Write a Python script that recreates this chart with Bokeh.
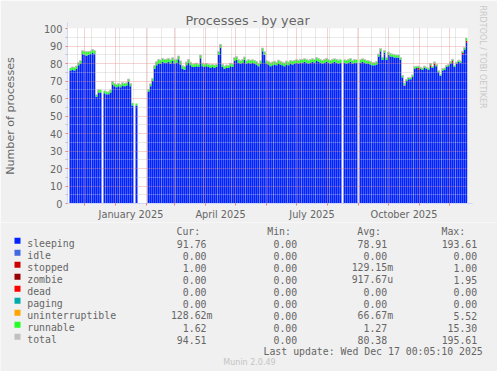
import numpy as np
import pandas as pd
from bokeh.plotting import figure
from bokeh.layouts import column
from bokeh.models import (Range1d, LinearAxis, FixedTicker, Grid, Title,
                          ColumnDataSource, Arrow, NormalHead, DatetimeTickFormatter)
from bokeh.core.properties import value
from bokeh.embed import file_html
from bokeh.resources import INLINE

nan = float("nan")

# ---------------- data (2-day bins, starting 2024-11-14) ----------------
START = "2024-11-14"
WINDOW_DAYS = 400
BIN_DAYS = 2

sleeping = [
    nan, 76, 76.5, 76, 77, 79, 80, 85.5, 85, 84.5,
    85, 85.5, 86, 85.5, 61, 63.5, 63.5, nan, 63, 62.5,
    62.5, 63.5, 68, 67, 66.5, 67, 66.5, 67.5, 67, 67.5,
    69.5, 67, 56, nan, 56, nan, nan, nan, nan, nan,
    64, 67, 70, 77, 79, 80, 80, 81, 80.5, 80.5,
    81, 80, 81.5, 80, 80.5, 82.5, 79.5, 77, 76.5, 79,
    80.5, 79, 78, 78, 78.5, 78, 83, 78.5, 78, 78.5,
    78, 77.5, 78, 77.5, 78, 85, 89, 78, 77, 77.5,
    77.5, 78.5, 78, 81.5, 82, 80.5, 80, 80.5, 82, 80,
    80.5, 80, 80.5, 80, 79.5, 78.5, 80, 87, 85, 80,
    79.5, 78.5, 79, 79.5, 79, 80, 79.5, 79, 78.5, 79.5,
    79, 80, 79.5, 80, 80.5, 80, 80.5, 80.5, 81, 80.5,
    80, 80.5, 81, 80.5, 81.5, 81, 80.5, 80, 80.5, 81,
    80.5, 80, 80.5, 81, 80.5, 80, 80.5, nan, 80.5, 80,
    80.5, 81, 80, 80.5, 80.5, nan, 80.5, 81, 80.5, 80,
    80, 79.5, 79, 79, 79.5, 84, 87, 82, 86, 82,
    85, 84, 84, 83.5, 83.5, 83.5, 82, 72, 67.5, 70,
    71, 71, 72.5, 77, 77.5, 76.5, 77, 76.5, 77.5, 77,
    76.5, 78, 77.5, 79, 78.5, 75, 73, 76, 76.5, 78,
    78.5, 80, 80.5, 78, 80, 81, 80.5, 85, 88, 91.8,
]

runnable = [
    nan, 1.5, 1.5, 1.8, 1.6, 1.5, 1.7, 1.8, 2.0, 2.2,
    1.8, 1.6, 2.0, 1.8, 1.2, 1.4, 1.5, nan, 1.4, 1.3,
    1.3, 1.4, 1.8, 1.6, 1.5, 1.6, 1.4, 1.5, 1.6, 1.5,
    1.6, 1.5, 1.4, nan, 1.2, nan, nan, nan, nan, nan,
    1.3, 1.4, 1.5, 1.8, 2.0, 2.2, 2.0, 1.9, 1.8, 2.0,
    1.9, 2.1, 1.8, 2.0, 1.9, 1.8, 2.0, 1.7, 1.8, 1.9,
    1.8, 1.7, 1.6, 1.8, 1.7, 1.6, 1.8, 1.7, 1.6, 1.5,
    1.6, 1.7, 1.5, 1.6, 1.5, 1.8, 1.9, 1.6, 1.5, 1.6,
    1.5, 1.6, 1.7, 1.8, 1.9, 1.7, 1.6, 1.8, 1.7, 1.6,
    1.7, 1.8, 1.6, 1.7, 1.6, 1.5, 1.6, 1.8, 1.7, 1.6,
    1.7, 1.8, 1.9, 1.8, 1.7, 1.9, 1.8, 1.7, 1.8, 1.9,
    1.8, 1.7, 1.9, 1.8, 1.7, 1.8, 1.9, 1.8, 1.7, 1.8,
    1.9, 1.8, 1.7, 1.8, 1.9, 1.8, 1.7, 1.8, 1.9, 1.8,
    1.7, 1.8, 1.9, 1.7, 1.8, 1.9, 1.8, nan, 1.7, 1.8,
    1.9, 1.8, 1.7, 1.8, 1.7, nan, 1.8, 1.7, 1.8, 1.7,
    1.6, 1.7, 1.6, 1.5, 1.6, 1.4, 1.5, 1.6, 1.4, 1.5,
    1.5, 1.6, 1.4, 1.5, 1.3, 1.4, 1.3, 1.2, 1.1, 1.0,
    1.0, 0.9, 1.0, 1.1, 0.9, 1.0, 0.8, 0.9, 1.0, 0.8,
    0.9, 1.0, 0.8, 0.9, 1.0, 0.9, 0.8, 1.0, 0.9, 0.8,
    0.9, 1.0, 0.9, 1.0, 0.8, 0.9, 1.0, 0.9, 1.1, 1.6,
]

stopped = [
    0, 0, 0, 0, 0, 0, 0, 0, 0, 0,
    0, 0, 0, 0, 0, 0, 0, 0, 0, 0,
    0, 0, 0, 0, 0, 0, 0, 0, 0, 0,
    0, 0, 0, 0, 0, 0, 0, 0, 0, 0,
    0, 0, 0, 0, 0, 0, 0, 0, 0, 0,
    0, 0, 0, 0, 0, 0, 0, 0, 0, 0,
    0, 0, 0, 0, 0, 0, 0, 0, 0, 0,
    0, 0, 0, 0, 0, 0, 0, 0, 0, 0,
    0, 0, 0, 0, 0, 0, 0, 0, 0, 0,
    0, 0, 0, 0, 0, 0, 0, 0, 0, 0,
    0, 0, 0, 0, 0, 0, 0, 0, 0, 0,
    0, 0, 0, 0, 0, 0, 0, 0, 0, 0,
    0, 0, 0, 0, 0, 0, 0, 0, 0, 0,
    0, 0, 0, 0, 0, 0, 0, 0, 0, 0,
    0, 0, 0, 0, 0, 0, 0, 0, 0, 0,
    0, 0, 0, 0, 0, 0, 0, 0, 0, 0,
    0, 0, 0, 0, 0, 0, 0, 0, 0, 0,
    0, 0, 0, 0, 0, 1, 0, 0, 0, 0,
    0, 1, 0, 1, 0, 0, 0, 0, 0, 0,
    0, 0, 1, 0, 0, 0, 0, 1, 0, 1,
]

uninterruptible = [
    0, 0, 0, 0, 0, 0, 0, 0, 0, 0,
    0, 0, 0, 0, 0, 0, 0, 0, 0, 0,
    0, 0, 0, 0, 0, 0, 0, 0, 0, 0,
    0, 0, 0, 0, 0, 0, 0, 0, 0, 0,
    0, 0, 0, 0, 0, 0, 0, 0, 0, 0,
    0, 0, 0, 0, 0, 0, 0, 0, 0, 0,
    0, 0, 0, 0, 0, 0, 0, 0, 0, 0,
    0, 0, 0, 0, 0, 0, 0, 0, 0, 0,
    0, 0, 0, 0, 0, 0, 0, 0, 0, 0,
    0, 0, 0, 0, 0, 0, 0, 0, 0, 0,
    0, 0, 0, 0, 0, 0, 0, 0, 0, 0,
    0, 0, 0, 0, 0, 0, 0, 0, 0, 0,
    0, 0, 0, 0, 0, 0, 0, 0, 0, 0,
    0, 0, 0, 0, 0, 0, 0, 0, 0, 0,
    0, 0, 0, 0, 0, 0, 0, 0, 0, 0,
    0, 0, 0, 0, 0, 0, 0, 0, 0, 0,
    0, 0, 0, 0, 0, 0, 0, 0, 0.3, 0,
    0, 0, 0, 0, 0, 0, 0, 0, 0, 0,
    0, 0, 0, 0, 0, 0, 0, 0, 0, 0,
    0, 0, 0, 0, 0, 0, 0, 0, 0, 0.13,
]

month_starts = ["2024-12-01", "2025-01-01", "2025-02-01", "2025-03-01", "2025-04-01",
                "2025-05-01", "2025-06-01", "2025-07-01", "2025-08-01", "2025-09-01",
                "2025-10-01", "2025-11-01", "2025-12-01"]
minor_grid_first = "2024-11-24"
month_label_at = ["2025-01-16 12:00", "2025-04-16", "2025-07-16 12:00", "2025-10-16 12:00"]

legend_names = ["sleeping", "idle", "stopped", "zombie", "dead", "paging",
                "uninterruptible", "runnable", "total"]
legend_colors = ["#0022ff", "#4169e1", "#cc0000", "#990000", "#ff0000", "#00aaaa",
                 "#ffa500", "#22ff22", "#c0c0c0"]
headers = ["Cur:", "Min:", "Avg:", "Max:"]
cur_vals = ["91.76", "0.00", "1.00", "0.00", "0.00", "0.00", "128.62m", "1.62", "94.51"]
min_vals = ["0.00", "0.00", "0.00", "0.00", "0.00", "0.00", "0.00", "0.00", "0.00"]
avg_vals = ["78.91", "0.00", "129.15m", "917.67u", "0.00", "0.00", "66.67m", "1.27", "80.38"]
max_vals = ["193.61", "0.00", "1.00", "1.95", "0.00", "0.00", "5.52", "15.30", "195.61"]
last_update = "Last update: Wed Dec 17 00:05:10 2025"

# ---------------- helpers ----------------
DAY = 86400000
def ms(s):
    return pd.Timestamp(s).value // 10**6

t0 = ms(START)
n = len(sleeping)
xs = [t0 + (BIN_DAYS * k + BIN_DAYS / 2) * DAY for k in range(n)]
sl = np.array(sleeping, float)
st = np.array(stopped, float)
un = np.array(uninterruptible, float)
ru = np.array(runnable, float)
total = sl + st + un + ru

src = ColumnDataSource(dict(x=xs, sleeping=sl, stopped=st, uninterruptible=un,
                            runnable=ru, total=total))

FONT_COL = "#666666"
AXIS_COL = "#CFD6F8"
MGRID = "#e68080"
GRID = "#c0c0c0"
BG = "#F0F0F0"
W = 497
TOP_H = 222
BOT_H = 371 - TOP_H

def no_align(fig):
    if "frame_align" in fig.properties():
        fig.frame_align = False

# ---------------- main chart ----------------
p = figure(frame_width=400, frame_height=175,
           min_border_left=67, min_border_right=W - 467, min_border_top=28,
           min_border_bottom=TOP_H - 203,
           x_range=Range1d(t0, t0 + WINDOW_DAYS * DAY), y_range=Range1d(0, 100),
           x_axis_type=None, y_axis_type=None, title="Processes - by year",
           output_backend="svg", toolbar_location=None)
no_align(p)
p.background_fill_color = "white"
p.border_fill_color = BG
p.outline_line_color = None
p.title.align = "left"
p.title.offset = 185 - 67
p.title.standoff = 1
p.title.text_font = "DejaVu Sans"
p.title.text_font_size = "12.8px"
p.title.text_font_style = "normal"
p.title.text_color = FONT_COL

p.vbar_stack(["sleeping", "stopped", "uninterruptible", "runnable"], x="x",
             width=BIN_DAYS * DAY, source=src,
             fill_color=["#0022ff", "#cc0000", "#ffa500", "#22ff22"], line_color=None)
p.step("x", "total", source=src, mode="center", line_color="#c0c0c0", line_width=1)

month_ms = [ms(d) for d in month_starts]
minor_ms = [int(v.value // 10**6) for v in pd.date_range(minor_grid_first, periods=28, freq="14D")]
for dim, ticks, col in [(1, list(range(5, 100, 10)), GRID), (1, list(range(10, 101, 10)), MGRID),
                        (0, minor_ms, GRID), (0, month_ms, MGRID)]:
    p.add_layout(Grid(dimension=dim, ticker=FixedTicker(ticks=ticks), grid_line_color=col,
                      grid_line_alpha=0.7, grid_line_dash="1 1", level="overlay"))

yax = LinearAxis(ticker=FixedTicker(ticks=list(range(0, 101, 10)), minor_ticks=list(range(5, 100, 10))),
                 axis_line_color=AXIS_COL, major_tick_line_color=MGRID, major_tick_out=2,
                 major_tick_in=0, minor_tick_line_color=GRID, minor_tick_out=2, minor_tick_in=0,
                 major_label_standoff=3, major_label_text_font="DejaVu Sans",
                 major_label_text_font_size="9.75px", major_label_text_color=FONT_COL,
                 axis_label="Number of processes", axis_label_standoff=24,
                 axis_label_text_font="DejaVu Sans", axis_label_text_font_size="11.1px",
                 axis_label_text_font_style="normal", axis_label_text_color=FONT_COL)
p.add_layout(yax, "left")

fmt = DatetimeTickFormatter(years="%B %Y", months="%B %Y", days="%B %Y", hours="%B %Y",
                            hourmin="%B %Y", minutes="%B %Y", minsec="%B %Y", seconds="%B %Y",
                            milliseconds="%B %Y", microseconds="%B %Y")
xax = LinearAxis(ticker=FixedTicker(ticks=[ms(d) for d in month_label_at], minor_ticks=month_ms),
                 formatter=fmt, axis_line_color=AXIS_COL, major_tick_line_color=None,
                 major_tick_out=0, major_tick_in=0, minor_tick_line_color=MGRID,
                 minor_tick_out=2, minor_tick_in=0, major_label_standoff=3,
                 major_label_text_font="DejaVu Sans", major_label_text_font_size="9.75px",
                 major_label_text_color=FONT_COL)
p.add_layout(xax, "below")

p.add_layout(Title(text="RRDTOOL / TOBI OETIKER", align="left", offset=-23, standoff=18,
                   vertical_align="middle", text_font="DejaVu Sans", text_font_size="8px",
                   text_font_style="normal", text_color="#c8c8c8"), "right")

p.add_layout(Arrow(x_start=t0 + WINDOW_DAYS * DAY, y_start=0, x_end=t0 + (WINDOW_DAYS + 5) * DAY, y_end=0,
                   line_color=AXIS_COL, end=NormalHead(size=5, fill_color=AXIS_COL, line_color=AXIS_COL)))
p.add_layout(Arrow(x_start=t0, y_start=100, x_end=t0, y_end=103.5,
                   line_color=AXIS_COL, end=NormalHead(size=5, fill_color=AXIS_COL, line_color=AXIS_COL)))

# ---------------- legend block (page pixel coordinates) ----------------
q = figure(width=W, height=BOT_H, x_range=Range1d(0, W), y_range=Range1d(371, TOP_H),
           x_axis_location=None, y_axis_location=None, min_border=0,
           output_backend="svg", toolbar_location=None)
no_align(q)
q.grid.visible = False
q.outline_line_color = None
q.background_fill_color = BG
q.border_fill_color = BG

MONO = dict(text_font=value("DejaVu Sans Mono"), text_font_size="9.85px",
            text_baseline="alphabetic", text_color=FONT_COL)
CH = 5.93
row_base = [243.3 + 12 * i for i in range(len(legend_names))]

q.rect(x=[17] * len(legend_names), y=[b - 3 for b in row_base], width=6, height=6,
       fill_color=legend_colors, line_color=None)

lx, ly, lt = [], [], []
for h, xl in zip(headers, [176, 266.7, 356.7, 441]):
    lx.append(xl); ly.append(230.7); lt.append(h)
for name, b in zip(legend_names, row_base):
    lx.append(26.7); ly.append(b); lt.append(name)
q.text(x=lx, y=ly, text=lt, text_align="left", **MONO)

rx, ry, rt = [], [], []
for vals, xe in [(cur_vals, 206), (min_vals, 296.7), (avg_vals, 386.7), (max_vals, 476.7)]:
    for s, b in zip(vals, row_base):
        rx.append(xe + (CH if s[-1].isalpha() else 0)); ry.append(b); rt.append(s)
rx.append(482.3); ry.append(351.3); rt.append(last_update)
q.text(x=rx, y=ry, text=rt, text_align="right", **MONO)

q.text(x=[249], y=[362], text=["Munin 2.0.49"], text_font=value("DejaVu Sans"),
       text_font_size="8px", text_align="center", text_baseline="alphabetic",
       text_color="#c4c4c4")

layout = column(p, q, spacing=0)
open("out.html", "w").write(file_html(layout, INLINE))
